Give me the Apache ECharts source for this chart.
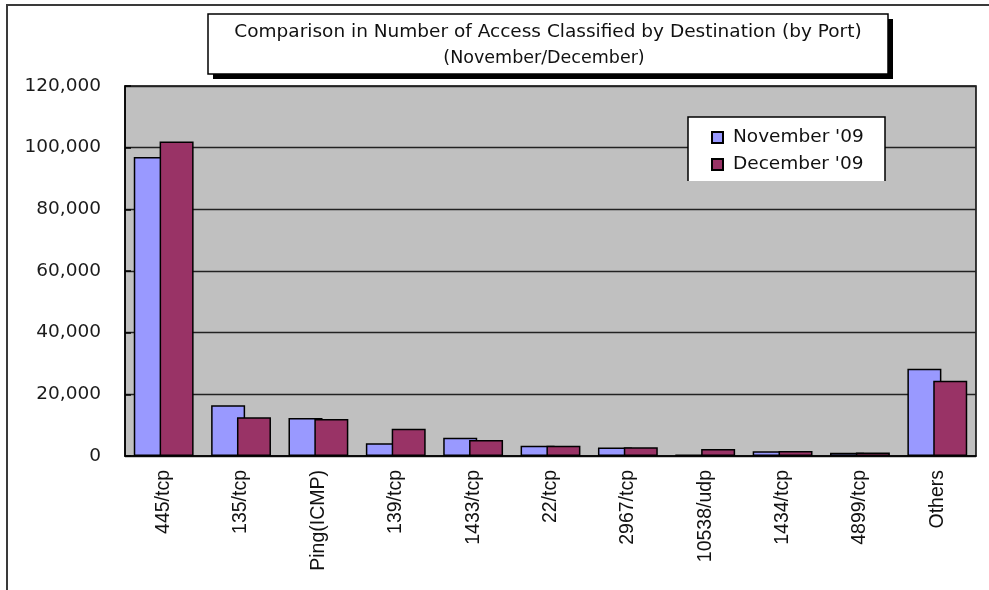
<!DOCTYPE html>
<html>
<head>
<meta charset="utf-8">
<script src="https://cdn.jsdelivr.net/npm/echarts@6/dist/echarts.min.js"></script>
<style>
  html, body { margin: 0; padding: 0; background: #fff; }
  #chart { width: 989px; height: 590px; }
</style>
</head>
<body>
<div id="chart"></div>
<script>
var ports = ['445/tcp', '135/tcp', 'Ping(ICMP)', '139/tcp', '1433/tcp', '22/tcp', '2967/tcp', '10538/udp', '1434/tcp', '4899/tcp', 'Others'];
var november = [97000, 16500, 12300, 4100, 5900, 3350, 2750, 500, 1550, 1050, 28300];
var december = [102000, 12600, 12000, 8850, 5200, 3300, 2850, 2300, 1650, 1100, 24400];
var seriesNames = ["November '09", "December '09"];
var yTicks = { min: 0, max: 120000, step: 20000 };

var chart = echarts.init(document.getElementById('chart'));

chart.setOption({
	animation: false,
	backgroundColor: '#fff',
	graphic: [
		// outer frame
		{ type: 'rect', z: 0, shape: { x: 7, y: 5, width: 1000, height: 620 },
			style: { fill: 'none', stroke: '#3a3a3a', lineWidth: 2 } },
		// title box with shadow
		{ type: 'rect', z: 10, shape: { x: 213, y: 19, width: 680, height: 60 },
			style: { fill: '#000' } },
		{ type: 'rect', z: 11, shape: { x: 208, y: 14, width: 680, height: 60 },
			style: { fill: '#fff', stroke: '#000', lineWidth: 1.5 } },
		{ type: 'text', z: 12, x: 548, y: 32,
			style: { text: 'Comparison in Number of Access Classified by Destination (by Port)', fill: '#111',
				font: '18.5px "DejaVu Sans"', align: 'center', verticalAlign: 'middle' } },
		{ type: 'text', z: 12, x: 544, y: 58,
			style: { text: '(November/December)', fill: '#111',
				font: '17.5px "DejaVu Sans"', align: 'center', verticalAlign: 'middle' } },
		// legend box (open at the bottom)
		{ type: 'rect', z: 10, shape: { x: 688, y: 117, width: 197, height: 64 },
			style: { fill: '#fff' } },
		{ type: 'polyline', z: 11, shape: { points: [[688, 181], [688, 117], [885, 117], [885, 181]] },
			style: { fill: 'none', stroke: '#000', lineWidth: 1.5 } }
	],
	legend: {
		z: 20,
		orient: 'vertical',
		left: 706,
		top: 123,
		itemWidth: 11,
		itemHeight: 11,
		itemGap: 8,
		icon: 'rect',
		textStyle: { fontFamily: 'DejaVu Sans', fontSize: 18.5, color: '#111', padding: [0, 0, 0, 5] },
		data: seriesNames
	},
	grid: {
		left: 125, right: 13, top: 86, bottom: 134,
		outerBoundsMode: 'none',
		show: true,
		backgroundColor: '#c0c0c0',
		borderColor: '#000',
		borderWidth: 1.5
	},
	xAxis: {
		type: 'category',
		data: ports,
		axisLine: { lineStyle: { color: '#000', width: 1.5 } },
		axisTick: { inside: true, length: 6, lineStyle: { color: '#000', width: 1.5 } },
		axisLabel: { rotate: 90, margin: 14, fontFamily: 'Liberation Sans', fontSize: 19.5, color: '#111', interval: 0 }
	},
	yAxis: {
		type: 'value',
		min: yTicks.min,
		max: yTicks.max,
		interval: yTicks.step,
		axisLine: { show: true, lineStyle: { color: '#000', width: 1.5 } },
		axisTick: { show: true, inside: true, length: 6, lineStyle: { color: '#000', width: 1.5 } },
		splitLine: { lineStyle: { color: '#222', width: 1.3 } },
		axisLabel: {
			margin: 24,
			fontFamily: 'DejaVu Sans', fontSize: 18.5, color: '#1b1b1b',
			formatter: function (v) { return v.toLocaleString('en-US'); }
		}
	},
	series: [
		{
			name: seriesNames[0], type: 'bar', data: november,
			barWidth: 34, barGap: '-24%',
			itemStyle: { color: '#9999ff', borderColor: '#000', borderWidth: 1.5 }
		},
		{
			name: seriesNames[1], type: 'bar', data: december,
			barWidth: 34,
			itemStyle: { color: '#993366', borderColor: '#000', borderWidth: 1.5 }
		}
	]
});
</script>
</body>
</html>
